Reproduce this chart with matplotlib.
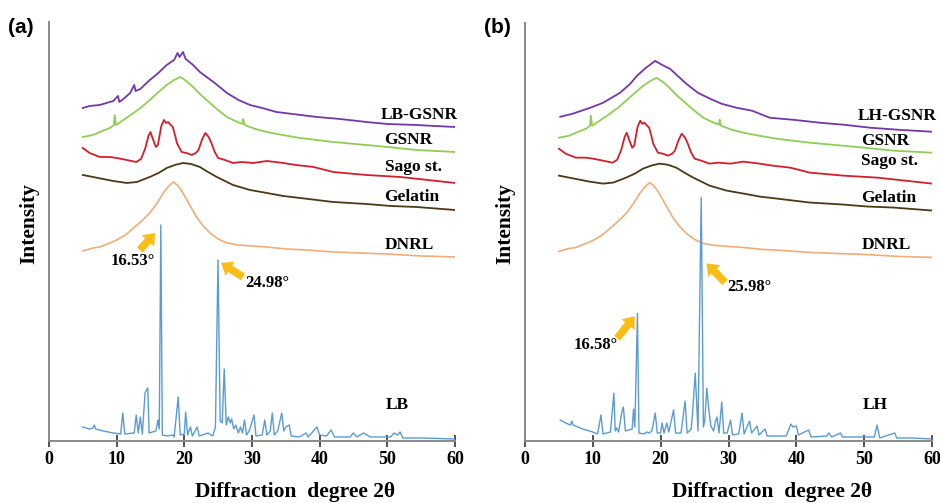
import matplotlib

matplotlib.use("Agg")
import matplotlib.pyplot as plt

# ---- XRD patterns (2-theta in degrees, intensity in arbitrary stacked units) ----
lb_gsnr_x = [5.0, 6.0, 7.5, 8.5, 9.5, 10.2, 10.4, 11.0, 12.0, 12.6, 12.8, 13.5, 14.9, 16.0,
             17.4, 18.5, 19.0, 19.3, 19.8, 20.2, 21.3, 22.3, 23.3, 24.5, 26.3, 28.0, 29.7,
             31.5, 33.6, 36.0, 39.6, 43.0, 46.9, 50.0, 54.3, 57.0, 60.0]
lb_gsnr_y = [333, 335, 336, 338, 340, 345, 339, 342, 348, 356, 350, 352, 361, 367,
             376, 381, 388, 384, 389, 382, 376, 369, 364, 358, 348, 341, 336,
             333, 329, 327, 324, 322, 319, 317, 316, 315, 314]

lh_gsnr_x = [5.2, 7.0, 9.6, 11.5, 14.0, 15.5, 16.5, 17.8, 19.2, 20.2, 21.4, 22.5, 23.8,
             25.5, 27.3, 29.0, 31.2, 33.5, 36.1, 39.5, 43.5, 47.0, 50.9, 55.0, 60.0]
lh_gsnr_y = [325, 328, 334, 339, 349, 358, 366, 374, 381, 377, 373, 366, 358,
             349, 343, 338, 334, 331, 324, 322, 319, 317, 314, 312, 310]

gsnr_x = [5.0, 6.5, 7.5, 9.0, 9.6, 9.7, 9.9, 11.0, 12.5, 13.7, 14.9, 16.2, 17.4, 18.5,
          19.4, 20.3, 21.3, 22.3, 23.3, 24.8, 26.3, 27.5, 28.6, 28.7, 28.9, 30.5, 32.2,
          34.5, 37.1, 42.0, 46.9, 50.0, 54.3, 60.0]
gsnr_y = [304, 306, 309, 313, 316, 326, 316, 321, 328, 334, 341, 349, 356, 361,
          364, 360, 354, 347, 341, 332, 324, 320, 317, 322, 316, 312, 309,
          306, 303, 299, 296, 294, 291, 289]

sago_x = [5.0, 6.0, 7.5, 9.0, 10.0, 11.5, 12.9, 13.6, 14.2, 14.7, 15.0, 15.3, 15.8, 16.1,
          16.6, 17.0, 17.3, 17.6, 18.0, 18.3, 18.7, 18.9, 19.6, 20.3, 21.1, 21.7, 22.1,
          22.6, 23.1, 23.6, 24.0, 24.5, 25.0, 26.0, 27.2, 28.5, 30.2, 32.2, 34.6, 36.5,
          39.1, 42.0, 46.9, 51.9, 56.0, 60.0]
sago_y = [293, 288, 284, 284, 283, 281, 279, 282, 292, 305, 309, 303, 294, 296,
          315, 321, 318, 319, 316, 314, 304, 298, 289, 288, 286, 288, 291,
          301, 308, 304, 298, 289, 283, 281, 278, 279, 278, 280, 278, 276,
          274, 269, 266, 264, 261, 258]

gelatin_x = [5.0, 6.5, 8.0, 9.5, 11.5, 13.0, 14.9, 16.2, 17.4, 18.6, 19.8, 21.0, 22.3,
             23.5, 24.8, 26.0, 27.2, 29.7, 32.2, 34.6, 37.1, 42.0, 46.9, 50.5, 54.3, 60.0]
gelatin_y = [266, 264, 262, 260, 258, 259, 264, 268, 273, 276, 278, 277, 274,
             269, 264, 260, 256, 251, 248, 245, 243, 239, 237, 235, 234, 231]

dnrl_x = [5.0, 6.5, 7.5, 9.0, 10.0, 11.3, 12.5, 13.7, 14.9, 16.0, 16.9, 17.7, 18.4, 19.1,
          19.8, 20.8, 21.8, 22.8, 23.8, 25.0, 26.3, 28.0, 30.0, 32.2, 35.0, 38.0, 42.0,
          46.0, 50.0, 55.0, 60.0]
dnrl_y = [190, 193, 194, 198, 201, 206, 213, 220, 228, 238, 248, 255, 259, 255,
          248, 236, 224, 215, 208, 202, 198, 196, 195, 194, 192, 191, 189,
          188, 187, 185, 184]

lb_x = [5.0, 6.0, 6.5, 6.7, 6.9, 8.0, 9.5, 10.6, 10.9, 11.2, 12.6, 12.9, 13.2, 13.5, 13.8,
        14.2, 14.4, 14.6, 14.8, 15.8, 16.1, 16.3, 16.53, 16.75, 17.5, 18.3, 18.5, 19.1,
        19.4, 20.0, 20.2, 20.5, 20.9, 21.2, 21.9, 22.2, 23.5, 24.2, 24.6, 24.98, 25.3,
        25.6, 25.9, 26.2, 26.5, 26.8, 27.0, 27.3, 27.6, 28.0, 28.3, 28.6, 28.9, 29.2,
        29.6, 30.3, 30.6, 31.5, 31.9, 32.2, 32.7, 33.0, 33.3, 33.8, 34.4, 34.7, 35.0,
        35.5, 35.8, 37.0, 38.0, 38.3, 39.6, 40.0, 41.0, 41.7, 42.2, 44.5, 45.0, 45.5,
        46.5, 47.0, 47.5, 50.5, 51.0, 51.5, 51.9, 52.3, 55.0, 60.0]
lb_y = [14, 12, 13, 16, 12, 10, 8, 7, 28, 7, 8, 26, 8, 24, 7,
        48, 51, 53, 8, 10, 21, 12, 216, 6, 5, 6, 4, 44,
        6, 7, 29, 6, 14, 5, 14, 5, 8, 5, 14, 181, 20,
        18, 72, 16, 24, 18, 22, 12, 16, 8, 14, 8, 21, 6,
        10, 26, 5, 6, 21, 6, 10, 28, 6, 10, 28, 10, 14,
        16, 5, 4, 8, 4, 14, 6, 5, 11, 4, 4, 8, 4,
        8, 6, 4, 4, 8, 6, 9, 3, 3, 2]

lh_x = [5.2, 6.0, 6.7, 6.9, 7.1, 8.5, 10.0, 10.7, 11.2, 11.5, 12.6, 13.1, 13.3, 13.5, 13.8,
        14.3, 14.5, 14.8, 15.8, 16.0, 16.2, 16.58, 16.8, 17.5, 18.0, 18.3, 18.7, 19.2,
        19.5, 20.0, 20.2, 20.5, 20.9, 21.2, 21.9, 22.2, 23.0, 23.6, 23.9, 24.5, 24.7,
        25.1, 25.5, 25.98, 26.3, 26.5, 26.8, 27.1, 27.4, 27.8, 28.1, 28.3, 28.6, 29.0,
        29.3, 29.8, 30.3, 30.6, 31.5, 32.0, 32.3, 33.1, 33.4, 34.2, 34.5, 35.4, 35.7,
        37.0, 38.5, 39.2, 39.5, 40.0, 40.3, 41.8, 42.2, 44.5, 44.8, 45.2, 46.5, 46.8,
        48.0, 51.5, 51.9, 52.3, 54.5, 54.8, 57.0, 60.0]
lh_y = [21, 18, 16, 20, 16, 12, 9, 7, 26, 7, 9, 48, 10, 13, 9,
        30, 34, 10, 12, 32, 14, 128, 8, 7, 9, 8, 10, 28,
        8, 8, 18, 8, 18, 9, 31, 8, 8, 40, 8, 12, 28,
        68, 10, 244, 14, 20, 53, 31, 15, 10, 20, 24, 8, 39,
        8, 8, 21, 6, 7, 28, 7, 20, 8, 15, 6, 12, 5,
        5, 5, 17, 14, 15, 6, 11, 4, 5, 8, 4, 8, 4,
        4, 4, 16, 3, 8, 3, 3, 2]

# labelled reflections of the drug crystals
lb_peaks = [16.53, 24.98]
lh_peaks = [16.58, 25.98]

PURPLE = "#7436a8"
GREEN = "#8fce55"
RED = "#d11f2c"
BROWN = "#4e3716"
ORANGE = "#f2ac78"
BLUE = "#5b9bd5"
GOLD = "#fbbd14"
AXIS = "#8a8a8a"

plt.rcParams.update({
    "font.family": "Liberation Serif",
    "font.weight": "bold",
})

fig = plt.figure(figsize=(9.4, 5.03), dpi=100)
ax_a = fig.add_axes([0.0521, 0.1233, 0.4319, 0.8330])
ax_b = fig.add_axes([0.5585, 0.1233, 0.4330, 0.8310])


def style_axes(ax):
    ax.set_xlim(0, 60)
    ax.set_ylim(0, 419)
    ax.set_xticks(range(0, 61, 10))
    ax.set_yticks([])
    for side in ("top", "right"):
        ax.spines[side].set_visible(False)
    for side in ("left", "bottom"):
        ax.spines[side].set_color(AXIS)
        ax.spines[side].set_linewidth(1.4)
    ax.tick_params(axis="x", direction="inout", length=8, width=1.2, color="#333333",
                   labelsize=13, pad=3)
    for lbl in ax.get_xticklabels():
        lbl.set_fontweight("bold")
    ax.set_xlabel("Diffraction  degree 2θ", fontsize=15.5, fontweight="bold")
    ax.xaxis.set_label_coords(0.606, -0.098)
    ax.set_ylabel("Intensity", fontsize=15.5, fontweight="bold")
    ax.yaxis.set_label_coords(-0.024, 0.52)


def gold_arrow(ax, head, tail):
    ax.annotate("", xy=head, xytext=tail,
                arrowprops=dict(arrowstyle="simple,head_length=0.7,head_width=1.1,tail_width=0.5",
                                color=GOLD, lw=0, mutation_scale=11, shrinkA=0, shrinkB=0))


def draw_panel(ax, top_x, top_y, drug_x, drug_y, top_name, drug_name, tag):
    style_axes(ax)
    ax.plot(top_x, top_y, color=PURPLE, lw=1.3)
    ax.plot(gsnr_x, gsnr_y, color=GREEN, lw=1.3)
    ax.plot(sago_x, sago_y, color=RED, lw=1.3)
    ax.plot(gelatin_x, gelatin_y, color=BROWN, lw=1.3)
    ax.plot(dnrl_x, dnrl_y, color=ORANGE, lw=1.2)
    ax.plot(drug_x, drug_y, color=BLUE, lw=1.0)

    lx = 49.6
    kw = dict(fontsize=12.5, fontweight="bold", va="center", ha="left")
    ax.text(lx - 0.6, 326, top_name, **kw)
    ax.text(lx, 301, "GSNR", **kw)
    ax.text(lx, 274 if tag == "(a)" else 281, "Sago st.", **kw)
    ax.text(lx, 244, "Gelatin", **kw)
    ax.text(lx, 196, "DNRL", **kw)
    ax.text(lx + 0.2, 36, drug_name, **kw)

    fig.text(ax.get_position().x0 - 0.044, 0.946, tag, family="Liberation Sans",
             fontsize=15, fontweight="bold", ha="left", va="center")
    return ax


draw_panel(ax_a, lb_gsnr_x, lb_gsnr_y, lb_x, lb_y, "LB-GSNR", "LB", "(a)")
draw_panel(ax_b, lh_gsnr_x, lh_gsnr_y, lh_x, lh_y, "LH-GSNR", "LH", "(b)")

# peak call-outs, panel (a)
gold_arrow(ax_a, (lb_peaks[0] - 0.85, 208), (lb_peaks[0] - 3.1, 191))
ax_a.text(lb_peaks[0] - 4.2, 180, f"{lb_peaks[0]:.2f}°", fontsize=12, fontweight="bold",
          ha="center", va="center")
gold_arrow(ax_a, (lb_peaks[1] + 0.45, 178), (lb_peaks[1] + 3.7, 164))
ax_a.text(lb_peaks[1] + 4.0, 158, f"{lb_peaks[1]:.2f}°", fontsize=12, fontweight="bold",
          ha="left", va="center")

# peak call-outs, panel (b)
gold_arrow(ax_b, (lh_peaks[0] - 0.4, 125), (lh_peaks[0] - 3.0, 103))
ax_b.text(lh_peaks[0] - 2.9, 96, f"{lh_peaks[0]:.2f}°", fontsize=12, fontweight="bold",
          ha="right", va="center")
gold_arrow(ax_b, (lh_peaks[1] + 0.8, 178), (lh_peaks[1] + 3.5, 159))
ax_b.text(lh_peaks[1] + 3.9, 154, f"{lh_peaks[1]:.2f}°", fontsize=12, fontweight="bold",
          ha="left", va="center")

fig.savefig("out.png", dpi=100, facecolor="white")
